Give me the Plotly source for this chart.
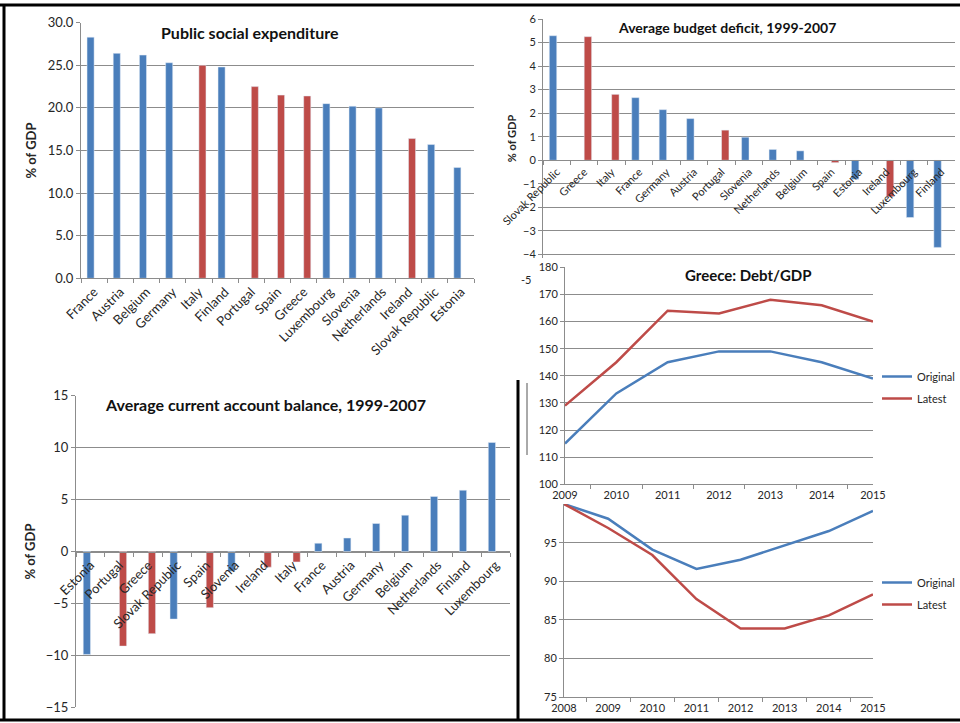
import plotly.graph_objects as go

# ---------------- data ----------------
social_countries = ["France", "Austria", "Belgium", "Germany", "Italy", "Finland", "Portugal",
                    "Spain", "Greece", "Luxembourg", "Slovenia", "Netherlands", "Ireland",
                    "Slovak Republic", "Estonia"]
social_values = [28.3, 26.4, 26.2, 25.3, 25.0, 24.8, 22.5, 21.5, 21.4, 20.5, 20.2, 20.0, 16.4, 15.7, 13.0]

deficit_countries = ["Slovak Republic", "Greece", "Italy", "France", "Germany", "Austria", "Portugal",
                     "Slovenia", "Netherlands", "Belgium", "Spain", "Estonia", "Ireland",
                     "Luxembourg", "Finland"]
deficit_values = [5.29, 5.25, 2.8, 2.66, 2.15, 1.77, 1.28, 0.98, 0.46, 0.40, -0.1, -0.81, -1.55, -2.43, -3.7]

ca_countries = ["Estonia", "Portugal", "Greece", "Slovak Republic", "Spain", "Slovenia", "Ireland",
                "Italy", "France", "Austria", "Germany", "Belgium", "Netherlands", "Finland", "Luxembourg"]
ca_values = [-9.9, -9.1, -7.9, -6.5, -5.4, -1.9, -1.5, -1.0, 0.8, 1.3, 2.7, 3.5, 5.3, 5.9, 10.5]

highlighted = ["Greece", "Italy", "Portugal", "Spain", "Ireland"]

debt_years = ["2009", "2010", "2011", "2012", "2013", "2014", "2015"]
debt_original = [115, 133.5, 145, 149, 149, 145, 139]
debt_latest = [129, 145, 164, 163, 168, 166, 160]

gdp_years = ["2008", "2009", "2010", "2011", "2012", "2013", "2014", "2015"]
gdp_original = [100, 98.1, 94.1, 91.6, 92.8, 94.7, 96.5, 99.1]
gdp_latest = [100, 96.9, 93.4, 87.7, 83.9, 83.9, 85.6, 88.3]

# ---------------- style ----------------
W, H = 960, 723
BLUE = "#4a7ebb"
RED = "#be4b48"
GRID = "#8c8c8c"
TXT = "#262626"
FONT = "Lato"


def fx(px):
    return px / W


def fy(py):
    return 1 - py / H


def split(countries, values):
    blue = [v if c not in highlighted else None for c, v in zip(countries, values)]
    red = [v if c in highlighted else None for c, v in zip(countries, values)]
    return blue, red


fig = go.Figure()


def add_bars(countries, values, xa, ya, width):
    blue, red = split(countries, values)
    fig.add_trace(go.Bar(x=countries, y=blue, marker_color=BLUE, width=width, offset=-width,
                         xaxis=xa, yaxis=ya, showlegend=False))
    fig.add_trace(go.Bar(x=countries, y=red, marker_color=RED, width=width, offset=0,
                         xaxis=xa, yaxis=ya, showlegend=False))


add_bars(social_countries, social_values, "x", "y", 0.27)
add_bars(deficit_countries, deficit_values, "x2", "y2", 0.27)
add_bars(ca_countries, ca_values, "x3", "y3", 0.25)

fig.add_trace(go.Scatter(x=debt_years, y=debt_original, mode="lines", name="Original",
                         line=dict(color=BLUE, width=2.5), xaxis="x4", yaxis="y4",
                         legend="legend", legendgroup="a"))
fig.add_trace(go.Scatter(x=debt_years, y=debt_latest, mode="lines", name="Latest",
                         line=dict(color=RED, width=2.5), xaxis="x4", yaxis="y4",
                         legend="legend", legendgroup="b"))
fig.add_trace(go.Scatter(x=gdp_years, y=gdp_original, mode="lines", name="Original",
                         line=dict(color=BLUE, width=2.5), xaxis="x5", yaxis="y5",
                         legend="legend2", legendgroup="c"))
fig.add_trace(go.Scatter(x=gdp_years, y=gdp_latest, mode="lines", name="Latest",
                         line=dict(color=RED, width=2.5), xaxis="x5", yaxis="y5",
                         legend="legend2", legendgroup="d"))


def xcat(domain, size, **kw):
    d = dict(domain=[fx(domain[0]), fx(domain[1])], type="category", showline=True,
             linecolor=GRID, linewidth=1, ticks="outside", ticklen=4, tickcolor=GRID,
             tickson="boundaries", showgrid=False, tickfont=dict(size=size, color=TXT, family=FONT),
             fixedrange=True, zeroline=False, automargin=False)
    d.update(kw)
    return d


def yval(domain, rng, dtick, size, fmt="", title=None, standoff=6, **kw):
    d = dict(domain=[fy(domain[1]), fy(domain[0])], range=rng, dtick=dtick, tickformat=fmt,
             showline=True, linecolor=GRID, linewidth=1, ticks="outside", ticklen=4,
             tickcolor=GRID, showgrid=True, gridcolor=GRID, gridwidth=1, zeroline=False,
             tickfont=dict(size=size, color=TXT, family=FONT), fixedrange=True, automargin=False)
    if title:
        d["title"] = dict(text=title, standoff=standoff,
                          font=dict(size=size, color=TXT, family=FONT, weight="bold"))
    d.update(kw)
    return d


fig.update_layout(
    width=W, height=H, margin=dict(l=0, r=0, t=0, b=0, autoexpand=False),
    paper_bgcolor="white", plot_bgcolor="rgba(0,0,0,0)",
    font=dict(family=FONT, color=TXT),
    xaxis=xcat((81, 474), 13, anchor="y", tickangle=-45),
    yaxis=yval((22.7, 278.3), [0, 30], 5, 13, ".1f", "% of GDP", 8, anchor="x"),
    xaxis2=xcat((543, 955), 11, anchor="free", position=fy(160.3), tickangle=-45),
    yaxis2=yval((19, 258), [-4.15, 6], 1, 11, "", "% of GDP", 4, anchor="x2"),
    xaxis3=xcat((76, 510), 13, anchor="free", position=fy(551.6), tickangle=-45),
    yaxis3=yval((395.7, 707.4), [-15, 15], 5, 13, "", "% of GDP", 7, anchor="x3"),
    xaxis4=xcat((565, 873), 11, anchor="y4", tickangle=0),
    yaxis4=yval((267.3, 484.3), [100, 180], 10, 11, "", None, anchor="x4"),
    xaxis5=xcat((564, 873), 11, anchor="y5", tickangle=0),
    yaxis5=yval((504, 697.3), [75, 100], 5, 11, "", None, anchor="x5",
                tickvals=[75, 80, 85, 90, 95]),
    legend=dict(x=1, y=fy(362), xanchor="right", yanchor="top", bgcolor="rgba(0,0,0,0)",
                font=dict(size=11, color=TXT, family=FONT), tracegroupgap=3,
                traceorder="grouped", itemwidth=30),
    legend2=dict(x=1, y=fy(568), xanchor="right", yanchor="top", bgcolor="rgba(0,0,0,0)",
                 font=dict(size=11, color=TXT, family=FONT), tracegroupgap=3,
                 traceorder="grouped", itemwidth=30),
)

titles = [
    ("Public social expenditure", 250, 33, 16),
    ("Average budget deficit, 1999-2007", 727, 28, 14),
    ("Average current account balance, 1999-2007", 265, 404, 16),
    ("Greece: Debt/GDP", 748, 275, 15),
]
for text, x, y, s in titles:
    fig.add_annotation(text=f"<b>{text}</b>", x=fx(x), y=fy(y), xref="paper", yref="paper",
                       showarrow=False, xanchor="center", yanchor="middle",
                       font=dict(size=s, color="#111", family=FONT))

# cut-off tick label of the budget-deficit axis peeking out beside the debt chart
fig.add_annotation(text="-5", x=fx(533), y=fy(280), xref="paper", yref="paper", showarrow=False,
                   xanchor="right", yanchor="middle", font=dict(size=11, color=TXT, family=FONT))

# collage frame lines
K = "black"
shapes = [
    dict(type="line", x0=0, x1=1, y0=fy(5), y1=fy(5), line=dict(color=K, width=3)),
    dict(type="line", x0=fx(4), x1=fx(4), y0=fy(5), y1=fy(720), line=dict(color=K, width=3)),
    dict(type="line", x0=0, x1=1, y0=fy(720), y1=fy(720), line=dict(color=K, width=3)),
    dict(type="line", x0=fx(518), x1=fx(518), y0=fy(380), y1=fy(720), line=dict(color=K, width=3)),
    dict(type="line", x0=fx(527), x1=fx(527), y0=fy(383), y1=fy(455), line=dict(color="#555", width=1)),
]
for s in shapes:
    s.update(xref="paper", yref="paper")
fig.update_layout(shapes=shapes)

fig.write_html("out.html", config={"displayModeBar": False},
               post_script="document.body.style.margin='0';")
